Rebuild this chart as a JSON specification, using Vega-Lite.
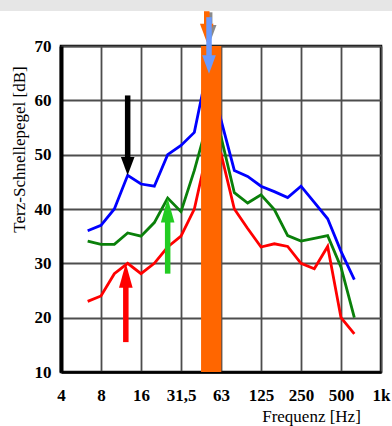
{
  "$schema": "https://vega.github.io/schema/vega-lite/v6.json",
  "width": 320,
  "height": 326,
  "autosize": {"type": "none"},
  "padding": {"left": 61, "top": 46, "right": 11, "bottom": 54},
  "background": "white",
  "config": {
    "view": {"stroke": "#000000", "strokeWidth": 2.5},
    "font": "Liberation Serif",
    "axis": {
      "grid": true,
      "gridColor": "#4d4d4d",
      "gridWidth": 1.8,
      "gridOpacity": 1,
      "ticks": false,
      "domainColor": "#000000",
      "labelFont": "Liberation Serif",
      "labelFontWeight": "bold",
      "labelFontSize": 17,
      "labelColor": "#000000",
      "labelFlush": false,
      "labelOverlap": false,
      "titleFont": "Liberation Serif",
      "titleFontWeight": "normal",
      "titleFontSize": 17,
      "titleColor": "#000000"
    },
    "axisX": {
      "domainWidth": 2.5,
      "labelPadding": 15,
      "titleX": 250,
      "titleY": 44,
      "titleAlign": "center",
      "titleBaseline": "middle"
    },
    "axisY": {
      "domainWidth": 4,
      "labelPadding": 10,
      "titleAngle": -90,
      "titleX": -42,
      "titleY": 103,
      "titleAlign": "center",
      "titleBaseline": "middle"
    }
  },
  "datasets": {
    "kurven": [
      {"serie": "blau", "f": 6.35, "L": 36},
      {"serie": "blau", "f": 8, "L": 37},
      {"serie": "blau", "f": 10.08, "L": 40},
      {"serie": "blau", "f": 12.7, "L": 46.2},
      {"serie": "blau", "f": 16, "L": 44.6},
      {"serie": "blau", "f": 20.16, "L": 44.2},
      {"serie": "blau", "f": 25.4, "L": 50},
      {"serie": "blau", "f": 32, "L": 51.7},
      {"serie": "blau", "f": 40.32, "L": 54.1},
      {"serie": "blau", "f": 50.8, "L": 66},
      {"serie": "blau", "f": 64, "L": 56.4},
      {"serie": "blau", "f": 80.63, "L": 47.1},
      {"serie": "blau", "f": 101.6, "L": 46},
      {"serie": "blau", "f": 128, "L": 44.2},
      {"serie": "blau", "f": 161.3, "L": 43.2},
      {"serie": "blau", "f": 203.2, "L": 42.1},
      {"serie": "blau", "f": 256, "L": 44.2},
      {"serie": "blau", "f": 322.5, "L": 41.2},
      {"serie": "blau", "f": 406.4, "L": 38.2},
      {"serie": "blau", "f": 512, "L": 32.2},
      {"serie": "blau", "f": 645.1, "L": 27},
      {"serie": "grün", "f": 6.35, "L": 34.1},
      {"serie": "grün", "f": 8, "L": 33.5},
      {"serie": "grün", "f": 10.08, "L": 33.5},
      {"serie": "grün", "f": 12.7, "L": 35.6},
      {"serie": "grün", "f": 16, "L": 35},
      {"serie": "grün", "f": 20.16, "L": 37.5},
      {"serie": "grün", "f": 25.4, "L": 42},
      {"serie": "grün", "f": 32, "L": 39.5},
      {"serie": "grün", "f": 40.32, "L": 47.1},
      {"serie": "grün", "f": 50.8, "L": 56},
      {"serie": "grün", "f": 64, "L": 53.3},
      {"serie": "grün", "f": 80.63, "L": 43},
      {"serie": "grün", "f": 101.6, "L": 41.1},
      {"serie": "grün", "f": 128, "L": 42.6},
      {"serie": "grün", "f": 161.3, "L": 39.9},
      {"serie": "grün", "f": 203.2, "L": 35.1},
      {"serie": "grün", "f": 256, "L": 34.1},
      {"serie": "grün", "f": 322.5, "L": 34.6},
      {"serie": "grün", "f": 406.4, "L": 35.1},
      {"serie": "grün", "f": 512, "L": 29.3},
      {"serie": "grün", "f": 645.1, "L": 20},
      {"serie": "rot", "f": 6.35, "L": 23},
      {"serie": "rot", "f": 8, "L": 24},
      {"serie": "rot", "f": 10.08, "L": 28.1},
      {"serie": "rot", "f": 12.7, "L": 30},
      {"serie": "rot", "f": 16, "L": 28.1},
      {"serie": "rot", "f": 20.16, "L": 30},
      {"serie": "rot", "f": 25.4, "L": 33},
      {"serie": "rot", "f": 32, "L": 35},
      {"serie": "rot", "f": 40.32, "L": 40},
      {"serie": "rot", "f": 50.8, "L": 51},
      {"serie": "rot", "f": 64, "L": 50.2},
      {"serie": "rot", "f": 80.63, "L": 40},
      {"serie": "rot", "f": 101.6, "L": 36.4},
      {"serie": "rot", "f": 128, "L": 33},
      {"serie": "rot", "f": 161.3, "L": 33.6},
      {"serie": "rot", "f": 203.2, "L": 33.1},
      {"serie": "rot", "f": 256, "L": 30},
      {"serie": "rot", "f": 322.5, "L": 29},
      {"serie": "rot", "f": 406.4, "L": 33.1},
      {"serie": "rot", "f": 512, "L": 20},
      {"serie": "rot", "f": 645.1, "L": 17}
    ],
    "band": [
      {"f_von": 45.3, "f_bis": 64.3}
    ],
    "pfeile_hinten": [
      {"kennung": "Schatten", "f": 52.6, "von": 76.2, "bis": 73.8, "spitze": 70.5, "richtung": "ab"},
      {"kennung": "Pfeil orange", "f": 50, "von": 76.4, "bis": 74.0, "spitze": 70.7, "richtung": "ab"}
    ],
    "pfeile_vorn": [
      {"kennung": "Pfeil blau", "f": 52, "von": 75.3, "bis": 68.2, "spitze": 64.9, "richtung": "ab"},
      {"kennung": "Pfeil schwarz", "f": 12.7, "von": 60.9, "bis": 49.5, "spitze": 46.2, "richtung": "ab"},
      {"kennung": "Pfeil grün", "f": 25.4, "von": 28.1, "bis": 37.7, "spitze": 42.0, "richtung": "auf"},
      {"kennung": "Pfeil rot", "f": 12.3, "von": 15.5, "bis": 25.7, "spitze": 30.0, "richtung": "auf"}
    ]
  },
  "layer": [
    {
      "data": {"name": "kurven"},
      "mark": {"type": "line", "strokeWidth": 2.8},
      "encoding": {
        "x": {
          "field": "f",
          "type": "quantitative",
          "scale": {"type": "log", "base": 2, "domain": [4, 1024], "nice": false},
          "axis": {
            "values": [4, 8, 16, 32, 64, 128, 256, 512, 1024],
            "labelExpr": "datum.value == 32 ? '31,5' : datum.value == 64 ? '63' : datum.value == 128 ? '125' : datum.value == 256 ? '250' : datum.value == 512 ? '500' : datum.value == 1024 ? '1k' : format(datum.value, 'd')",
            "title": "Frequenz [Hz]"
          }
        },
        "y": {
          "field": "L",
          "type": "quantitative",
          "scale": {"domain": [10, 70], "nice": false, "zero": false},
          "axis": {
            "values": [10, 20, 30, 40, 50, 60, 70],
            "title": "Terz-Schnellepegel [dB]"
          }
        },
        "color": {
          "field": "serie",
          "type": "nominal",
          "scale": {
            "domain": ["blau", "grün", "rot", "Schatten", "Pfeil orange", "Pfeil blau", "Pfeil schwarz", "Pfeil grün", "Pfeil rot"],
            "range": ["#0000ff", "#0a800a", "#ff0000", "#8a8a8a", "#ff6600", "#6b9bff", "#000000", "#22cc22", "#ff0000"]
          },
          "legend": null
        }
      }
    },
    {
      "data": {"name": "band"},
      "mark": {"type": "rect", "color": "#ff6600"},
      "encoding": {
        "x": {"field": "f_von", "type": "quantitative", "scale": {"type": "log", "base": 2, "domain": [4, 1024], "nice": false}},
        "x2": {"field": "f_bis"},
        "y": {"datum": 10, "type": "quantitative", "scale": {"domain": [10, 70], "nice": false, "zero": false}},
        "y2": {"datum": 70}
      }
    },
    {
      "data": {"values": [{}]},
      "mark": {"type": "rect", "color": "#e6e6e6"},
      "encoding": {
        "x": {"datum": 1, "type": "quantitative", "scale": {"type": "log", "base": 2, "domain": [4, 1024], "nice": false}},
        "x2": {"datum": 2000},
        "y": {"datum": 76.45, "type": "quantitative", "scale": {"domain": [10, 70], "nice": false, "zero": false}},
        "y2": {"datum": 84}
      }
    },
    {
      "data": {"name": "pfeile_hinten"},
      "layer": [
        {
          "mark": {"type": "rule", "strokeWidth": 5.5},
          "encoding": {
            "x": {"field": "f", "type": "quantitative", "scale": {"type": "log", "base": 2, "domain": [4, 1024], "nice": false}},
            "y": {"field": "von", "type": "quantitative", "scale": {"domain": [10, 70], "nice": false, "zero": false}},
            "y2": {"field": "bis"},
            "color": {"field": "kennung", "type": "nominal", "legend": null}
          }
        },
        {
          "mark": {"type": "point", "filled": true, "opacity": 1, "strokeWidth": 0},
          "encoding": {
            "x": {"field": "f", "type": "quantitative", "scale": {"type": "log", "base": 2, "domain": [4, 1024], "nice": false}},
            "y": {"field": "spitze", "type": "quantitative", "scale": {"domain": [10, 70], "nice": false, "zero": false}},
            "shape": {"field": "richtung", "type": "nominal", "scale": {"domain": ["ab", "auf"], "range": ["M-1,-2.7L1,-2.7L0,0Z", "M-1,3.6L1,3.6L0,0Z"]}, "legend": null},
            "size": {"value": 185},
            "color": {"field": "kennung", "type": "nominal", "legend": null}
          }
        }
      ]
    },
    {
      "data": {"name": "pfeile_vorn"},
      "layer": [
        {
          "mark": {"type": "rule", "strokeWidth": 5.5},
          "encoding": {
            "x": {"field": "f", "type": "quantitative", "scale": {"type": "log", "base": 2, "domain": [4, 1024], "nice": false}},
            "y": {"field": "von", "type": "quantitative", "scale": {"domain": [10, 70], "nice": false, "zero": false}},
            "y2": {"field": "bis"},
            "color": {"field": "kennung", "type": "nominal", "legend": null}
          }
        },
        {
          "mark": {"type": "point", "filled": true, "opacity": 1, "strokeWidth": 0},
          "encoding": {
            "x": {"field": "f", "type": "quantitative", "scale": {"type": "log", "base": 2, "domain": [4, 1024], "nice": false}},
            "y": {"field": "spitze", "type": "quantitative", "scale": {"domain": [10, 70], "nice": false, "zero": false}},
            "shape": {"field": "richtung", "type": "nominal", "scale": {"domain": ["ab", "auf"], "range": ["M-1,-2.7L1,-2.7L0,0Z", "M-1,3.6L1,3.6L0,0Z"]}, "legend": null},
            "size": {"value": 185},
            "color": {"field": "kennung", "type": "nominal", "legend": null}
          }
        }
      ]
    }
  ]
}
